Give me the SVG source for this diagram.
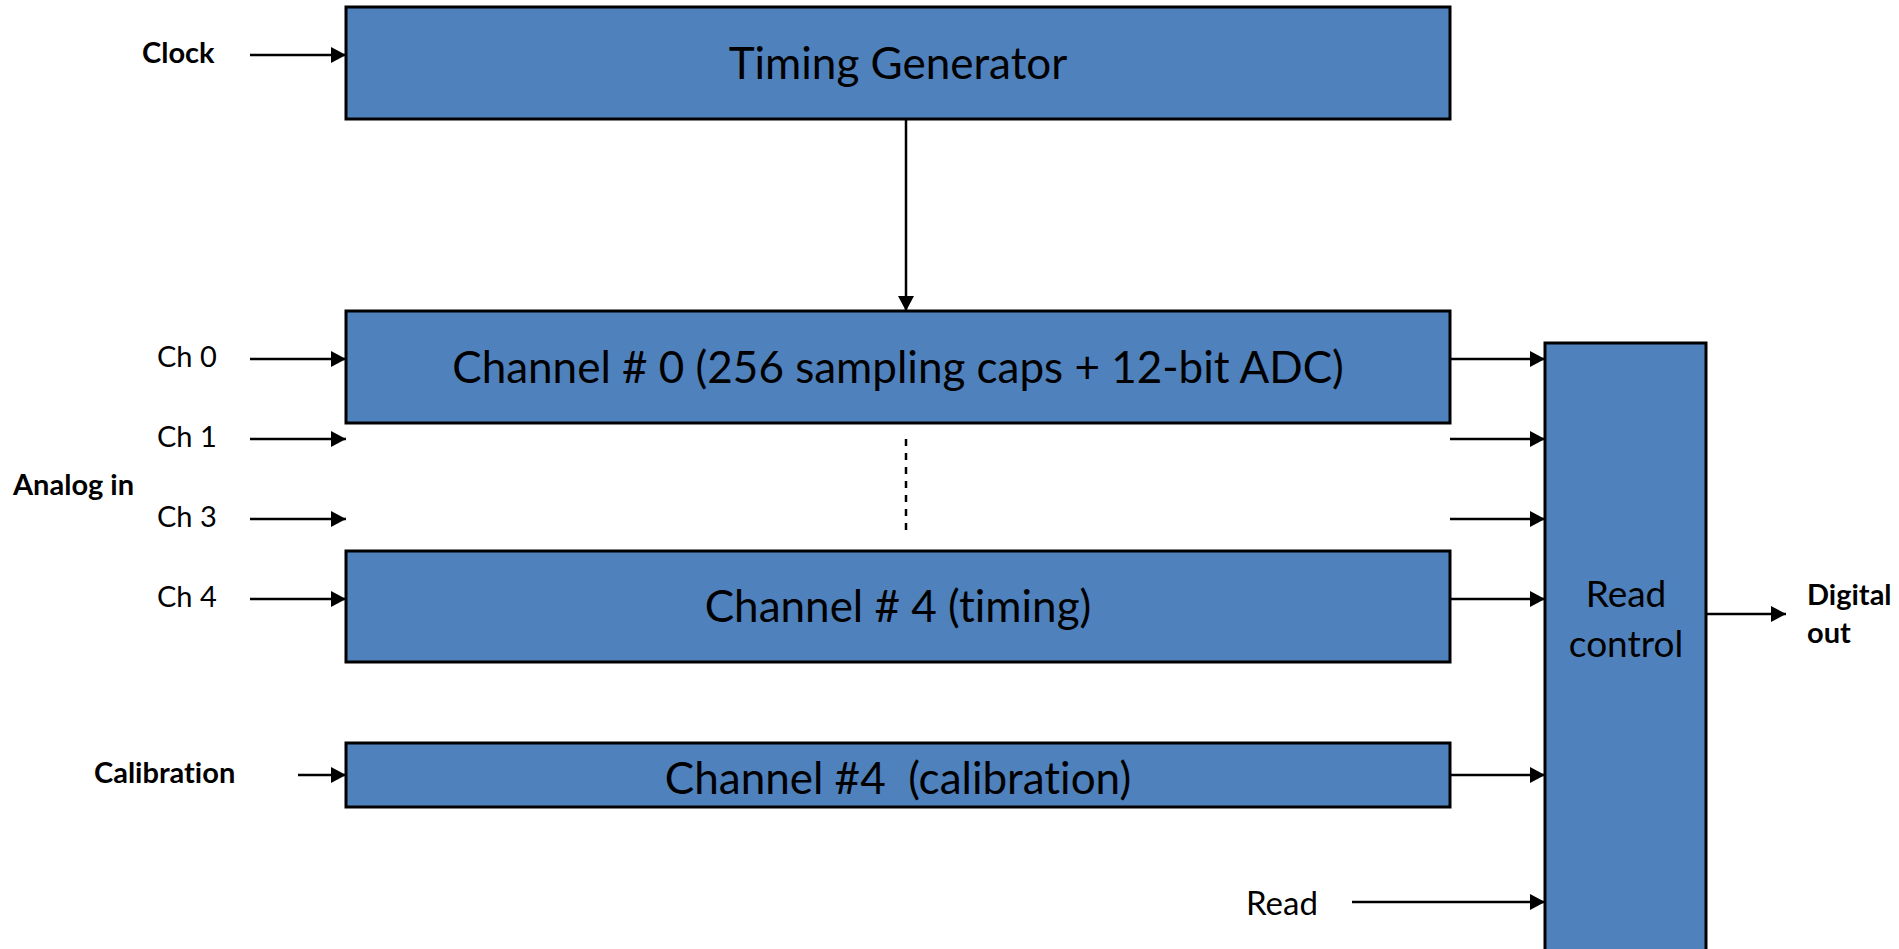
<svg xmlns="http://www.w3.org/2000/svg" width="1899" height="949" viewBox="0 0 1899 949">
<style>
text{font-variant-ligatures:none;font-feature-settings:"liga" 0,"clig" 0}
.box{fill:#4F81BD;stroke:#000;stroke-width:3}
.big{font-family:Lato,"Open Sans",sans-serif;font-size:44px;fill:#000;text-anchor:middle;white-space:pre}
.mid{font-family:Lato,"Open Sans",sans-serif;font-size:37px;fill:#000;text-anchor:middle}
.lbl{font-family:Lato,"Open Sans",sans-serif;font-size:29px;fill:#000}
.bold{font-family:Lato,"Open Sans",sans-serif;font-size:29px;font-weight:bold;fill:#000}
.ln{stroke:#000;stroke-width:2.5;fill:none;marker-end:url(#ah)}
.dash{stroke:#000;stroke-width:2.5;fill:none;stroke-dasharray:7 7}
</style>
<defs>
<marker id="ah" markerUnits="userSpaceOnUse" markerWidth="16" markerHeight="16" refX="15" refY="8" orient="auto">
<path d="M0,0 L15,8 L0,16 Z" fill="#000"/>
</marker>
</defs>
<rect width="1899" height="949" fill="#fff"/>
<g id="connectors">
<line class="ln" x1="250" y1="55" x2="346" y2="55"/>
<line class="ln" x1="906" y1="119" x2="906" y2="311"/>
<line class="ln" x1="250" y1="359" x2="346" y2="359"/>
<line class="ln" x1="250" y1="439" x2="346" y2="439"/>
<line class="ln" x1="250" y1="519" x2="346" y2="519"/>
<line class="ln" x1="250" y1="599" x2="346" y2="599"/>
<line class="ln" x1="298" y1="775" x2="346" y2="775"/>
<line class="dash" x1="906" y1="439" x2="906" y2="531"/>
<line class="ln" x1="1450" y1="359" x2="1545" y2="359"/>
<line class="ln" x1="1450" y1="439" x2="1545" y2="439"/>
<line class="ln" x1="1450" y1="519" x2="1545" y2="519"/>
<line class="ln" x1="1450" y1="599" x2="1545" y2="599"/>
<line class="ln" x1="1450" y1="775" x2="1545" y2="775"/>
<line class="ln" x1="1352" y1="902" x2="1545" y2="902"/>
<line class="ln" x1="1706" y1="614" x2="1786" y2="614"/>
</g>
<g id="timing-generator">
<rect class="box" x="346" y="7" width="1104" height="112"/>
<text class="big" x="898" y="79">Timing Generator</text>
</g>
<g id="channel-0">
<rect class="box" x="346" y="311" width="1104" height="112"/>
<text class="big" x="898" y="383">Channel # 0 (256 sampling caps + 12-bit ADC)</text>
</g>
<g id="channel-4-timing">
<rect class="box" x="346" y="551" width="1104" height="111"/>
<text class="big" x="898" y="622">Channel # 4 (timing)</text>
</g>
<g id="channel-4-calibration">
<rect class="box" x="346" y="743" width="1104" height="64"/>
<text class="big" x="898" y="794">Channel #4  (calibration)</text>
</g>
<g id="read-control">
<rect class="box" x="1545" y="343" width="161" height="620"/>
<text class="mid" x="1626" y="607">Read</text>
<text class="mid" x="1626" y="657">control</text>
</g>
<g id="labels">
<text class="bold" x="142" y="63">Clock</text>
<text class="lbl" x="157" y="367">Ch 0</text>
<text class="lbl" x="157" y="447">Ch 1</text>
<text class="bold" x="13" y="495">Analog in</text>
<text class="lbl" x="157" y="527">Ch 3</text>
<text class="lbl" x="157" y="607">Ch 4</text>
<text class="bold" x="94" y="783">Calibration</text>
<text class="bold" x="1807" y="605">Digital</text>
<text class="bold" x="1807" y="643">out</text>
<text class="lbl" x="1246" y="915" style="font-size:33px">Read</text>
</g>
</svg>
